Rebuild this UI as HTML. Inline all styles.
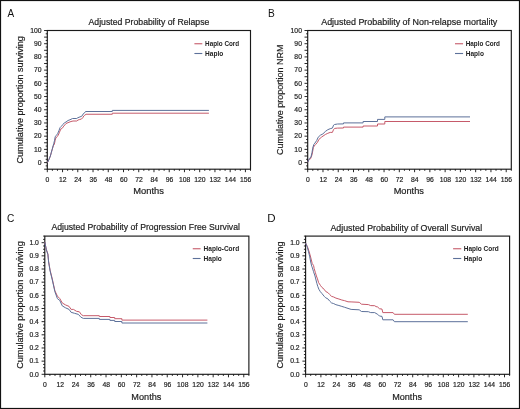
<!DOCTYPE html>
<html><head><meta charset="utf-8"><style>
html,body{margin:0;padding:0;background:#fff;}
body{width:520px;height:409px;overflow:hidden;}
svg{display:block;font-family:"Liberation Sans", sans-serif;will-change:transform;}
</style></head><body>
<svg width="520" height="409" viewBox="0 0 520 409">
<rect x="0.5" y="0.5" width="519" height="408" fill="#fff" stroke="#111" stroke-width="1.2"/>
<rect x="47.3" y="30.5" width="203.2" height="138.7" fill="none" stroke="#1a1a1a" stroke-width="1.15"/>
<path d="M44.1 169.2H47.3M45.7 165.9H47.3M44.1 162.6H47.3M45.7 159.3H47.3M44.1 156H47.3M45.7 152.69H47.3M44.1 149.39H47.3M45.7 146.09H47.3M44.1 142.78H47.3M45.7 139.48H47.3M44.1 136.18H47.3M45.7 132.88H47.3M44.1 129.57H47.3M45.7 126.27H47.3M44.1 122.97H47.3M45.7 119.67H47.3M44.1 116.36H47.3M45.7 113.06H47.3M44.1 109.76H47.3M45.7 106.46H47.3M44.1 103.16H47.3M45.7 99.85H47.3M44.1 96.55H47.3M45.7 93.25H47.3M44.1 89.94H47.3M45.7 86.64H47.3M44.1 83.34H47.3M45.7 80.04H47.3M44.1 76.73H47.3M45.7 73.43H47.3M44.1 70.13H47.3M45.7 66.83H47.3M44.1 63.52H47.3M45.7 60.22H47.3M44.1 56.92H47.3M45.7 53.62H47.3M44.1 50.31H47.3M45.7 47.01H47.3M44.1 43.71H47.3M45.7 40.41H47.3M44.1 37.11H47.3M45.7 33.8H47.3M44.1 30.5H47.3M47.3 169.2V172.2M52.38 169.2V170.8M57.46 169.2V170.8M62.54 169.2V172.2M67.62 169.2V170.8M72.7 169.2V170.8M77.78 169.2V172.2M82.86 169.2V170.8M87.94 169.2V170.8M93.02 169.2V172.2M98.1 169.2V170.8M103.18 169.2V170.8M108.26 169.2V172.2M113.34 169.2V170.8M118.42 169.2V170.8M123.5 169.2V172.2M128.58 169.2V170.8M133.66 169.2V170.8M138.74 169.2V172.2M143.82 169.2V170.8M148.9 169.2V170.8M153.98 169.2V172.2M159.06 169.2V170.8M164.14 169.2V170.8M169.22 169.2V172.2M174.3 169.2V170.8M179.38 169.2V170.8M184.46 169.2V172.2M189.54 169.2V170.8M194.62 169.2V170.8M199.7 169.2V172.2M204.78 169.2V170.8M209.86 169.2V170.8M214.94 169.2V172.2M220.02 169.2V170.8M225.1 169.2V170.8M230.18 169.2V172.2M235.26 169.2V170.8M240.34 169.2V170.8M245.42 169.2V172.2M250.5 169.2V170.8" stroke="#111" stroke-width="0.9" fill="none"/>
<g font-size="7.4" text-anchor="end" fill="#1e1e1e" stroke="#1e1e1e" stroke-width="0.2"><text transform="translate(41.55 164.9) scale(0.92 1)">0</text><text transform="translate(41.55 151.69) scale(0.92 1)">10</text><text transform="translate(41.55 138.48) scale(0.92 1)">20</text><text transform="translate(41.55 125.27) scale(0.92 1)">30</text><text transform="translate(41.55 112.06) scale(0.92 1)">40</text><text transform="translate(41.55 98.85) scale(0.92 1)">50</text><text transform="translate(41.55 85.64) scale(0.92 1)">60</text><text transform="translate(41.55 72.43) scale(0.92 1)">70</text><text transform="translate(41.55 59.22) scale(0.92 1)">80</text><text transform="translate(41.55 46.01) scale(0.92 1)">90</text><text transform="translate(41.55 32.8) scale(0.92 1)">100</text></g>
<g font-size="7.4" text-anchor="middle" fill="#1e1e1e" stroke="#1e1e1e" stroke-width="0.2"><text transform="translate(47.5 182) scale(0.92 1)">0</text><text transform="translate(62.74 182) scale(0.92 1)">12</text><text transform="translate(77.98 182) scale(0.92 1)">24</text><text transform="translate(93.22 182) scale(0.92 1)">36</text><text transform="translate(108.46 182) scale(0.92 1)">48</text><text transform="translate(123.7 182) scale(0.92 1)">60</text><text transform="translate(138.94 182) scale(0.92 1)">72</text><text transform="translate(154.18 182) scale(0.92 1)">84</text><text transform="translate(169.42 182) scale(0.92 1)">96</text><text transform="translate(184.66 182) scale(0.92 1)">108</text><text transform="translate(199.9 182) scale(0.92 1)">120</text><text transform="translate(215.14 182) scale(0.92 1)">132</text><text transform="translate(230.38 182) scale(0.92 1)">144</text><text transform="translate(245.62 182) scale(0.92 1)">156</text></g>
<text transform="translate(133.25 194.40) scale(1.0294 1)" font-size="9.1" fill="#1e1e1e" stroke="#1e1e1e" stroke-width="0.2">Months</text>
<text transform="translate(88.50 25.20) scale(0.9776 1)" font-size="8.9" fill="#1e1e1e" stroke="#1e1e1e" stroke-width="0.2">Adjusted Probability of Relapse</text>
<text transform="translate(22.50 163.46) rotate(-90) scale(1.0000 1)" font-size="9.1" fill="#1e1e1e" stroke="#1e1e1e" stroke-width="0.2">Cumulative proportion surviving</text>
<text transform="translate(7.40 16.60) scale(0.8929 1)" font-size="11.2" font-weight="500" fill="#111" stroke="#111" stroke-width="0">A</text>
<path d="M194.4 43.75H202.3" stroke="#c65a6a" stroke-width="1.1"/>
<path d="M194.4 53.5H202.3" stroke="#5d719a" stroke-width="1.1"/>
<text transform="translate(205.06 45.80) scale(0.9193 1)" font-size="6.9" font-weight="bold" fill="#222" stroke="#222" stroke-width="0">Haplo Cord</text>
<text transform="translate(205.04 55.60) scale(0.9499 1)" font-size="6.9" font-weight="bold" fill="#222" stroke="#222" stroke-width="0">Haplo</text>
<polyline points="47.3,162.4 47.9,161.9 49.1,159.2 50.4,156 51.4,152.3 52.3,149.2 53.3,145.8 54.3,144.4 55.2,140.2 55.8,138 57,136.8 58.3,135 59.5,132.2 60.7,129.2 62.2,128.3 63.8,126.1 66,123.5 69,122.25 71,121.5 73,121 76.75,121 78,120 79.75,119.5 81.5,119 82.75,117.75 83.75,116 84.75,115.25 86,114.25 112.3,114.25 112.3,113.2 208.9,113.2" fill="none" stroke="#c65a6a" stroke-width="1.0" stroke-linejoin="round"/>
<polyline points="47.3,162.4 47.9,161.9 49.1,159.1 50.4,155.9 51.4,152.1 52.3,148.9 53.3,145.1 53.7,143.8 54.6,140.2 55.2,136.8 56.1,135.6 57.6,133.8 58.9,130.7 60.1,127.6 61.3,126.4 62.8,124.6 64.4,122.8 66,122 68,120.5 70,119.75 72.5,118.5 76.75,118.5 77.75,117.75 79,117.25 81,116.5 82.25,115.75 83.25,113.75 84.25,113.25 85.5,111.5 112.3,111.5 112.3,110.4 208.9,110.4" fill="none" stroke="#5d719a" stroke-width="1.0" stroke-linejoin="round"/>
<rect x="307.7" y="30.5" width="203.6" height="138.7" fill="none" stroke="#1a1a1a" stroke-width="1.15"/>
<path d="M304.5 169.2H307.7M306.1 165.9H307.7M304.5 162.6H307.7M306.1 159.3H307.7M304.5 156H307.7M306.1 152.69H307.7M304.5 149.39H307.7M306.1 146.09H307.7M304.5 142.78H307.7M306.1 139.48H307.7M304.5 136.18H307.7M306.1 132.88H307.7M304.5 129.57H307.7M306.1 126.27H307.7M304.5 122.97H307.7M306.1 119.67H307.7M304.5 116.36H307.7M306.1 113.06H307.7M304.5 109.76H307.7M306.1 106.46H307.7M304.5 103.16H307.7M306.1 99.85H307.7M304.5 96.55H307.7M306.1 93.25H307.7M304.5 89.94H307.7M306.1 86.64H307.7M304.5 83.34H307.7M306.1 80.04H307.7M304.5 76.73H307.7M306.1 73.43H307.7M304.5 70.13H307.7M306.1 66.83H307.7M304.5 63.52H307.7M306.1 60.22H307.7M304.5 56.92H307.7M306.1 53.62H307.7M304.5 50.31H307.7M306.1 47.01H307.7M304.5 43.71H307.7M306.1 40.41H307.7M304.5 37.11H307.7M306.1 33.8H307.7M304.5 30.5H307.7M307.7 169.2V172.2M312.79 169.2V170.8M317.88 169.2V170.8M322.97 169.2V172.2M328.06 169.2V170.8M333.15 169.2V170.8M338.24 169.2V172.2M343.33 169.2V170.8M348.42 169.2V170.8M353.51 169.2V172.2M358.6 169.2V170.8M363.69 169.2V170.8M368.78 169.2V172.2M373.87 169.2V170.8M378.96 169.2V170.8M384.05 169.2V172.2M389.14 169.2V170.8M394.23 169.2V170.8M399.32 169.2V172.2M404.41 169.2V170.8M409.5 169.2V170.8M414.59 169.2V172.2M419.68 169.2V170.8M424.77 169.2V170.8M429.86 169.2V172.2M434.95 169.2V170.8M440.04 169.2V170.8M445.13 169.2V172.2M450.22 169.2V170.8M455.31 169.2V170.8M460.4 169.2V172.2M465.49 169.2V170.8M470.58 169.2V170.8M475.67 169.2V172.2M480.76 169.2V170.8M485.85 169.2V170.8M490.94 169.2V172.2M496.03 169.2V170.8M501.12 169.2V170.8M506.21 169.2V172.2M511.3 169.2V170.8" stroke="#111" stroke-width="0.9" fill="none"/>
<g font-size="7.4" text-anchor="end" fill="#1e1e1e" stroke="#1e1e1e" stroke-width="0.2"><text transform="translate(301.95 164.9) scale(0.92 1)">0</text><text transform="translate(301.95 151.69) scale(0.92 1)">10</text><text transform="translate(301.95 138.48) scale(0.92 1)">20</text><text transform="translate(301.95 125.27) scale(0.92 1)">30</text><text transform="translate(301.95 112.06) scale(0.92 1)">40</text><text transform="translate(301.95 98.85) scale(0.92 1)">50</text><text transform="translate(301.95 85.64) scale(0.92 1)">60</text><text transform="translate(301.95 72.43) scale(0.92 1)">70</text><text transform="translate(301.95 59.22) scale(0.92 1)">80</text><text transform="translate(301.95 46.01) scale(0.92 1)">90</text><text transform="translate(301.95 32.8) scale(0.92 1)">100</text></g>
<g font-size="7.4" text-anchor="middle" fill="#1e1e1e" stroke="#1e1e1e" stroke-width="0.2"><text transform="translate(307.9 182) scale(0.92 1)">0</text><text transform="translate(323.17 182) scale(0.92 1)">12</text><text transform="translate(338.44 182) scale(0.92 1)">24</text><text transform="translate(353.71 182) scale(0.92 1)">36</text><text transform="translate(368.98 182) scale(0.92 1)">48</text><text transform="translate(384.25 182) scale(0.92 1)">60</text><text transform="translate(399.52 182) scale(0.92 1)">72</text><text transform="translate(414.79 182) scale(0.92 1)">84</text><text transform="translate(430.06 182) scale(0.92 1)">96</text><text transform="translate(445.33 182) scale(0.92 1)">108</text><text transform="translate(460.6 182) scale(0.92 1)">120</text><text transform="translate(475.87 182) scale(0.92 1)">132</text><text transform="translate(491.14 182) scale(0.92 1)">144</text><text transform="translate(506.41 182) scale(0.92 1)">156</text></g>
<text transform="translate(393.66 194.40) scale(1.0154 1)" font-size="9.1" fill="#1e1e1e" stroke="#1e1e1e" stroke-width="0.2">Months</text>
<text transform="translate(321.20 25.30) scale(1.0046 1)" font-size="8.9" fill="#1e1e1e" stroke="#1e1e1e" stroke-width="0.2">Adjusted Probability of Non-relapse mortality</text>
<text transform="translate(283.20 154.95) rotate(-90) scale(0.9837 1)" font-size="9.1" fill="#1e1e1e" stroke="#1e1e1e" stroke-width="0.2">Cumulative proportion NRM</text>
<text transform="translate(268.08 16.70) scale(0.9097 1)" font-size="11.2" font-weight="500" fill="#111" stroke="#111" stroke-width="0">B</text>
<path d="M455 43.75H463.1" stroke="#c65a6a" stroke-width="1.1"/>
<path d="M455 53.5H463.1" stroke="#5d719a" stroke-width="1.1"/>
<text transform="translate(465.75 45.80) scale(0.9220 1)" font-size="6.9" font-weight="bold" fill="#222" stroke="#222" stroke-width="0">Haplo Cord</text>
<text transform="translate(465.74 55.60) scale(0.9499 1)" font-size="6.9" font-weight="bold" fill="#222" stroke="#222" stroke-width="0">Haplo</text>
<polyline points="307.7,162.2 308.3,161 309.4,159.2 310.5,158.8 312,154.8 313.4,147.5 314.2,146 315.6,144.5 317.5,142.3 318.9,139.4 321.7,137 325.3,134.5 327.8,133.3 330.2,132.4 332.4,132.4 333.6,129.4 334.8,128.4 337.5,128.1 343.5,128 343.5,127.1 363.1,127.1 363.1,126 377.5,126 377.5,124 384.8,124 384.8,121.5 470,121.5" fill="none" stroke="#c65a6a" stroke-width="1.0" stroke-linejoin="round"/>
<polyline points="307.7,162.2 308.3,161 309.4,158.4 310.9,157.3 312,152.6 312.7,148.2 313.8,144.5 314.9,143.1 316.7,140.5 318.2,137.2 320.4,135.2 322.9,133.9 325.3,131.5 327.8,129.7 330.2,128.7 332.4,128.1 333.6,125.1 334.5,124.5 337.5,124 343.5,123.9 343.5,122.9 363.1,122.9 363.1,121.5 377.5,121.5 377.5,119.4 384.8,119.4 384.8,116.9 470,116.9" fill="none" stroke="#5d719a" stroke-width="1.0" stroke-linejoin="round"/>
<rect x="44.8" y="236.1" width="204.08" height="138.2" fill="none" stroke="#1a1a1a" stroke-width="1.15"/>
<path d="M41.6 374.3H44.8M43.1 371.01H44.8M43.1 367.72H44.8M43.1 364.43H44.8M41.6 361.14H44.8M43.1 357.85H44.8M43.1 354.56H44.8M43.1 351.27H44.8M41.6 347.98H44.8M43.1 344.69H44.8M43.1 341.39H44.8M43.1 338.1H44.8M41.6 334.81H44.8M43.1 331.52H44.8M43.1 328.23H44.8M43.1 324.94H44.8M41.6 321.65H44.8M43.1 318.36H44.8M43.1 315.07H44.8M43.1 311.78H44.8M41.6 308.49H44.8M43.1 305.2H44.8M43.1 301.91H44.8M43.1 298.62H44.8M41.6 295.33H44.8M43.1 292.04H44.8M43.1 288.75H44.8M43.1 285.46H44.8M41.6 282.17H44.8M43.1 278.88H44.8M43.1 275.59H44.8M43.1 272.29H44.8M41.6 269H44.8M43.1 265.71H44.8M43.1 262.42H44.8M43.1 259.13H44.8M41.6 255.84H44.8M43.1 252.55H44.8M43.1 249.26H44.8M43.1 245.97H44.8M41.6 242.68H44.8M43.1 239.39H44.8M43.1 236.1H44.8M44.8 374.3V377.3M49.9 374.3V375.9M55 374.3V375.9M60.11 374.3V377.3M65.21 374.3V375.9M70.31 374.3V375.9M75.41 374.3V377.3M80.51 374.3V375.9M85.62 374.3V375.9M90.72 374.3V377.3M95.82 374.3V375.9M100.92 374.3V375.9M106.02 374.3V377.3M111.13 374.3V375.9M116.23 374.3V375.9M121.33 374.3V377.3M126.43 374.3V375.9M131.53 374.3V375.9M136.64 374.3V377.3M141.74 374.3V375.9M146.84 374.3V375.9M151.94 374.3V377.3M157.04 374.3V375.9M162.15 374.3V375.9M167.25 374.3V377.3M172.35 374.3V375.9M177.45 374.3V375.9M182.55 374.3V377.3M187.66 374.3V375.9M192.76 374.3V375.9M197.86 374.3V377.3M202.96 374.3V375.9M208.06 374.3V375.9M213.17 374.3V377.3M218.27 374.3V375.9M223.37 374.3V375.9M228.47 374.3V377.3M233.57 374.3V375.9M238.68 374.3V375.9M243.78 374.3V377.3M248.88 374.3V375.9" stroke="#111" stroke-width="0.9" fill="none"/>
<g font-size="7.4" text-anchor="end" fill="#1e1e1e" stroke="#1e1e1e" stroke-width="0.2"><text transform="translate(38.85 376.6) scale(0.92 1)">0.0</text><text transform="translate(38.85 363.44) scale(0.92 1)">0.1</text><text transform="translate(38.85 350.28) scale(0.92 1)">0.2</text><text transform="translate(38.85 337.11) scale(0.92 1)">0.3</text><text transform="translate(38.85 323.95) scale(0.92 1)">0.4</text><text transform="translate(38.85 310.79) scale(0.92 1)">0.5</text><text transform="translate(38.85 297.63) scale(0.92 1)">0.6</text><text transform="translate(38.85 284.47) scale(0.92 1)">0.7</text><text transform="translate(38.85 271.3) scale(0.92 1)">0.8</text><text transform="translate(38.85 258.14) scale(0.92 1)">0.9</text><text transform="translate(38.85 244.98) scale(0.92 1)">1.0</text></g>
<g font-size="7.4" text-anchor="middle" fill="#1e1e1e" stroke="#1e1e1e" stroke-width="0.2"><text transform="translate(45 387.1) scale(0.92 1)">0</text><text transform="translate(60.31 387.1) scale(0.92 1)">12</text><text transform="translate(75.61 387.1) scale(0.92 1)">24</text><text transform="translate(90.92 387.1) scale(0.92 1)">36</text><text transform="translate(106.22 387.1) scale(0.92 1)">48</text><text transform="translate(121.53 387.1) scale(0.92 1)">60</text><text transform="translate(136.84 387.1) scale(0.92 1)">72</text><text transform="translate(152.14 387.1) scale(0.92 1)">84</text><text transform="translate(167.45 387.1) scale(0.92 1)">96</text><text transform="translate(182.75 387.1) scale(0.92 1)">108</text><text transform="translate(198.06 387.1) scale(0.92 1)">120</text><text transform="translate(213.37 387.1) scale(0.92 1)">132</text><text transform="translate(228.67 387.1) scale(0.92 1)">144</text><text transform="translate(243.98 387.1) scale(0.92 1)">156</text></g>
<text transform="translate(131.37 399.80) scale(1.0050 1)" font-size="9.1" fill="#1e1e1e" stroke="#1e1e1e" stroke-width="0.2">Months</text>
<text transform="translate(51.40 230.40) scale(0.9763 1)" font-size="8.9" fill="#1e1e1e" stroke="#1e1e1e" stroke-width="0.2">Adjusted Probability of Progression Free Survival</text>
<text transform="translate(22.50 368.76) rotate(-90) scale(1.0016 1)" font-size="9.1" fill="#1e1e1e" stroke="#1e1e1e" stroke-width="0.2">Cumulative proportion surviving</text>
<text transform="translate(7.09 221.60) scale(0.9070 1)" font-size="11.2" font-weight="500" fill="#111" stroke="#111" stroke-width="0">C</text>
<path d="M192.75 248.75H200.6" stroke="#c65a6a" stroke-width="1.1"/>
<path d="M192.75 258.5H200.6" stroke="#5d719a" stroke-width="1.1"/>
<text transform="translate(203.54 250.90) scale(0.9498 1)" font-size="6.9" font-weight="bold" fill="#222" stroke="#222" stroke-width="0">Haplo-Cord</text>
<text transform="translate(203.54 260.50) scale(0.9608 1)" font-size="6.9" font-weight="bold" fill="#222" stroke="#222" stroke-width="0">Haplo</text>
<polyline points="44.8,242.2 46.4,249.7 47.9,254 48.6,261.4 50.1,270.2 52.3,279 54.9,290.8 57.4,296.1 59.8,298.6 62.3,303 65.7,305 69.1,306.4 71.1,309.4 73.5,309.4 76.5,311.3 79.4,311.8 81.4,314.7 83.3,315.7 99.3,315.7 99.3,316.5 109.9,316.5 109.9,317.5 114.7,317.5 114.7,318.7 121.9,318.7 121.9,320.1 207.4,320.1" fill="none" stroke="#c65a6a" stroke-width="1.0" stroke-linejoin="round"/>
<polyline points="44.8,242.2 46.4,249.9 47.9,254.5 48.6,262 50.1,271 52.3,280 54.9,291.7 57.4,298.6 59.8,300.5 62.3,305.9 65.7,307.9 69.1,309.4 71.1,312.3 74.5,313.3 78.4,314.4 80.9,317.2 83.3,318.4 99.3,318.4 99.3,319.4 109.9,319.4 109.9,320.4 114.7,320.4 114.7,321.5 121.9,321.5 121.9,323 207.4,323" fill="none" stroke="#5d719a" stroke-width="1.0" stroke-linejoin="round"/>
<rect x="305.6" y="236.1" width="204" height="138.2" fill="none" stroke="#1a1a1a" stroke-width="1.15"/>
<path d="M302.4 374.3H305.6M303.9 371.01H305.6M303.9 367.72H305.6M303.9 364.43H305.6M302.4 361.14H305.6M303.9 357.85H305.6M303.9 354.56H305.6M303.9 351.27H305.6M302.4 347.98H305.6M303.9 344.69H305.6M303.9 341.39H305.6M303.9 338.1H305.6M302.4 334.81H305.6M303.9 331.52H305.6M303.9 328.23H305.6M303.9 324.94H305.6M302.4 321.65H305.6M303.9 318.36H305.6M303.9 315.07H305.6M303.9 311.78H305.6M302.4 308.49H305.6M303.9 305.2H305.6M303.9 301.91H305.6M303.9 298.62H305.6M302.4 295.33H305.6M303.9 292.04H305.6M303.9 288.75H305.6M303.9 285.46H305.6M302.4 282.17H305.6M303.9 278.88H305.6M303.9 275.59H305.6M303.9 272.29H305.6M302.4 269H305.6M303.9 265.71H305.6M303.9 262.42H305.6M303.9 259.13H305.6M302.4 255.84H305.6M303.9 252.55H305.6M303.9 249.26H305.6M303.9 245.97H305.6M302.4 242.68H305.6M303.9 239.39H305.6M303.9 236.1H305.6M305.6 374.3V377.3M310.7 374.3V375.9M315.8 374.3V375.9M320.9 374.3V377.3M326 374.3V375.9M331.1 374.3V375.9M336.2 374.3V377.3M341.3 374.3V375.9M346.4 374.3V375.9M351.5 374.3V377.3M356.6 374.3V375.9M361.7 374.3V375.9M366.8 374.3V377.3M371.9 374.3V375.9M377 374.3V375.9M382.1 374.3V377.3M387.2 374.3V375.9M392.3 374.3V375.9M397.4 374.3V377.3M402.5 374.3V375.9M407.6 374.3V375.9M412.7 374.3V377.3M417.8 374.3V375.9M422.9 374.3V375.9M428 374.3V377.3M433.1 374.3V375.9M438.2 374.3V375.9M443.3 374.3V377.3M448.4 374.3V375.9M453.5 374.3V375.9M458.6 374.3V377.3M463.7 374.3V375.9M468.8 374.3V375.9M473.9 374.3V377.3M479 374.3V375.9M484.1 374.3V375.9M489.2 374.3V377.3M494.3 374.3V375.9M499.4 374.3V375.9M504.5 374.3V377.3M509.6 374.3V375.9" stroke="#111" stroke-width="0.9" fill="none"/>
<g font-size="7.4" text-anchor="end" fill="#1e1e1e" stroke="#1e1e1e" stroke-width="0.2"><text transform="translate(299.65 376.6) scale(0.92 1)">0.0</text><text transform="translate(299.65 363.44) scale(0.92 1)">0.1</text><text transform="translate(299.65 350.28) scale(0.92 1)">0.2</text><text transform="translate(299.65 337.11) scale(0.92 1)">0.3</text><text transform="translate(299.65 323.95) scale(0.92 1)">0.4</text><text transform="translate(299.65 310.79) scale(0.92 1)">0.5</text><text transform="translate(299.65 297.63) scale(0.92 1)">0.6</text><text transform="translate(299.65 284.47) scale(0.92 1)">0.7</text><text transform="translate(299.65 271.3) scale(0.92 1)">0.8</text><text transform="translate(299.65 258.14) scale(0.92 1)">0.9</text><text transform="translate(299.65 244.98) scale(0.92 1)">1.0</text></g>
<g font-size="7.4" text-anchor="middle" fill="#1e1e1e" stroke="#1e1e1e" stroke-width="0.2"><text transform="translate(305.8 387.1) scale(0.92 1)">0</text><text transform="translate(321.1 387.1) scale(0.92 1)">12</text><text transform="translate(336.4 387.1) scale(0.92 1)">24</text><text transform="translate(351.7 387.1) scale(0.92 1)">36</text><text transform="translate(367 387.1) scale(0.92 1)">48</text><text transform="translate(382.3 387.1) scale(0.92 1)">60</text><text transform="translate(397.6 387.1) scale(0.92 1)">72</text><text transform="translate(412.9 387.1) scale(0.92 1)">84</text><text transform="translate(428.2 387.1) scale(0.92 1)">96</text><text transform="translate(443.5 387.1) scale(0.92 1)">108</text><text transform="translate(458.8 387.1) scale(0.92 1)">120</text><text transform="translate(474.1 387.1) scale(0.92 1)">132</text><text transform="translate(489.4 387.1) scale(0.92 1)">144</text><text transform="translate(504.7 387.1) scale(0.92 1)">156</text></g>
<text transform="translate(392.17 399.80) scale(1.0015 1)" font-size="9.1" fill="#1e1e1e" stroke="#1e1e1e" stroke-width="0.2">Months</text>
<text transform="translate(330.50 230.50) scale(0.9907 1)" font-size="8.9" fill="#1e1e1e" stroke="#1e1e1e" stroke-width="0.2">Adjusted Probability of Overall Survival</text>
<text transform="translate(283.30 368.45) rotate(-90) scale(0.9976 1)" font-size="9.1" fill="#1e1e1e" stroke="#1e1e1e" stroke-width="0.2">Cumulative proportion surviving</text>
<text transform="translate(267.28 221.50) scale(1.0291 1)" font-size="11.2" font-weight="500" fill="#111" stroke="#111" stroke-width="0">D</text>
<path d="M453.1 248.75H461.25" stroke="#c65a6a" stroke-width="1.1"/>
<path d="M453.1 258.5H461.25" stroke="#5d719a" stroke-width="1.1"/>
<text transform="translate(463.75 250.90) scale(0.9413 1)" font-size="6.9" font-weight="bold" fill="#222" stroke="#222" stroke-width="0">Haplo Cord</text>
<text transform="translate(463.73 260.50) scale(0.9662 1)" font-size="6.9" font-weight="bold" fill="#222" stroke="#222" stroke-width="0">Haplo</text>
<polyline points="305.6,243.1 307.4,246.6 308.9,251 310,254.7 311.1,259 312.2,263.4 313.6,265.6 314.2,268.7 315.3,272.3 316.4,276 317.5,278.9 318.6,282.6 320.5,285.5 322,287.5 324.2,289.3 325.7,291.5 327.9,292.6 329.7,294.5 331.5,296.3 333.7,297 335.9,298.1 338.9,299 341.8,300 344.7,300.7 348,301.8 351.1,301.9 359.2,302.3 361.5,304.2 368.4,304.6 370.7,305.6 374.7,305.7 376,306.6 377.7,307 379.4,308.7 382,309.1 382.8,312.6 393.1,312.6 394.4,314.3 467.8,314.3" fill="none" stroke="#c65a6a" stroke-width="1.0" stroke-linejoin="round"/>
<polyline points="305.6,243.1 307.4,247.3 308.5,251.7 309.6,256.1 310.7,262 311.8,266.4 312.4,267.9 313.5,271.6 315,276 316,280 316.9,283.5 317.8,286.5 318.9,289.3 320.3,291.6 322,293.6 324.2,296.3 325.7,297.8 327.9,298.9 329.7,301.1 331.5,302.9 333.7,303.6 335.9,304.7 338.9,305.5 341.8,306.4 344.7,307.3 348,308.4 351.1,309.4 359.2,309.8 361.5,311.5 368.4,311.7 370.7,312.6 374.7,312.6 376,313.4 377.7,314.3 379.4,316 382,316.4 382.8,319.8 393.1,319.8 394.4,321.7 467.8,321.7" fill="none" stroke="#5d719a" stroke-width="1.0" stroke-linejoin="round"/>
</svg>
</body></html>
